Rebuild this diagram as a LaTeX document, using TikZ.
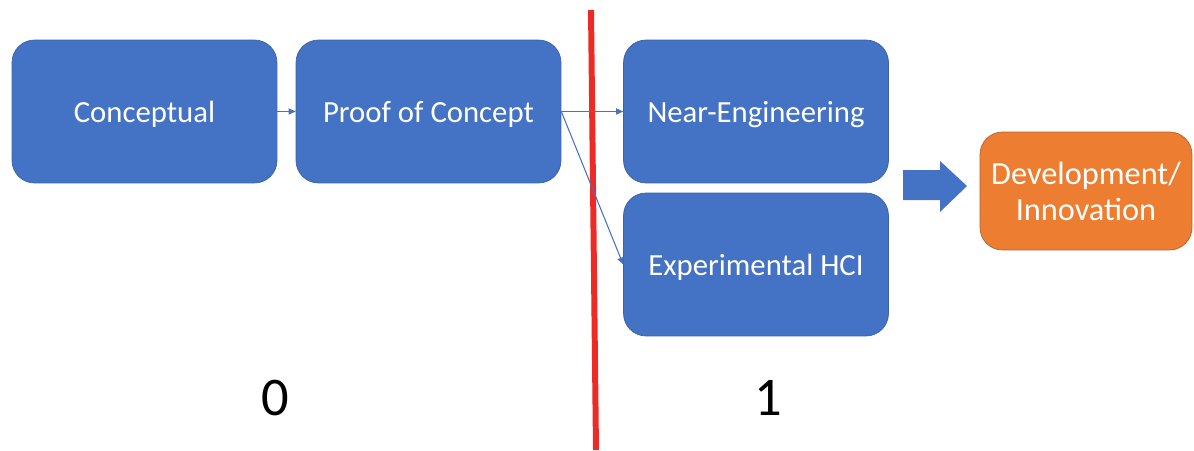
\documentclass[tikz,border=0pt]{standalone}
\usepackage{fontspec}
\setmainfont{Carlito}
\usepackage{tikz}
\usetikzlibrary{positioning,arrows.meta}
\usepackage{xcolor}
\definecolor{boxblue}{HTML}{4472C4}
\definecolor{edgeblue}{HTML}{3A62AC}
\definecolor{boxorange}{HTML}{ED7D31}
\definecolor{edgeorange}{HTML}{B8602A}
\definecolor{divred}{HTML}{EE2A24}
\tikzset{
  box/.style={rounded corners=0.45cm,text=white,align=center},
  stage/.style={box,draw=edgeblue,fill=boxblue,
    minimum width=5.3cm,minimum height=2.86cm,
    text height=12pt,text depth=0pt,
    font=\fontsize{17.5}{21}\selectfont},
  outcome/.style={box,draw=edgeorange,fill=boxorange,
    minimum width=4.24cm,minimum height=2.36cm,
    font=\fontsize{18.4}{20.5}\selectfont},
  flow/.style={boxblue,line width=0.6pt,-{Triangle[length=4pt,width=3.5pt]}},
  level/.style={font=\fontsize{31}{36}\selectfont}
}

\begin{document}
\begin{tikzpicture}[x=0.02cm,y=-0.02cm]
      \useasboundingbox (0,0) rectangle (1194,450);
      % Stages
      \node[stage] (concept) at (144.5,111.5) {Conceptual};
      \node[stage] (proof) at (428.5,111.5) {Proof of Concept};
      \node[stage] (neareng) at (756,111.5) {Near-Engineering};
      \node[stage] (exphci) at (756,264.5) {Experimental HCI};
      \node[outcome] (devinno) at (1086,191) {Development/\\Innovation};
      % Divider
      \draw[divred,line width=3.4pt] (591,10) -- (596,450);
      % Links
      \draw[flow] (concept.east) -- (proof.west);
      \draw[flow] (proof.east) -- (neareng.west);
      \draw[flow] (proof.east) -- (exphci.west);
      % Block arrow
      \fill[boxblue] (903,170) -- (940,170) -- (940,161) -- (967,186)
        -- (940,212) -- (940,200) -- (903,200) -- cycle;
      % Levels
      \node[level] (lvlzero) at (275,398) {0};
      \node[level] (lvlone) at (768,398) {1};
\end{tikzpicture}
\end{document}
